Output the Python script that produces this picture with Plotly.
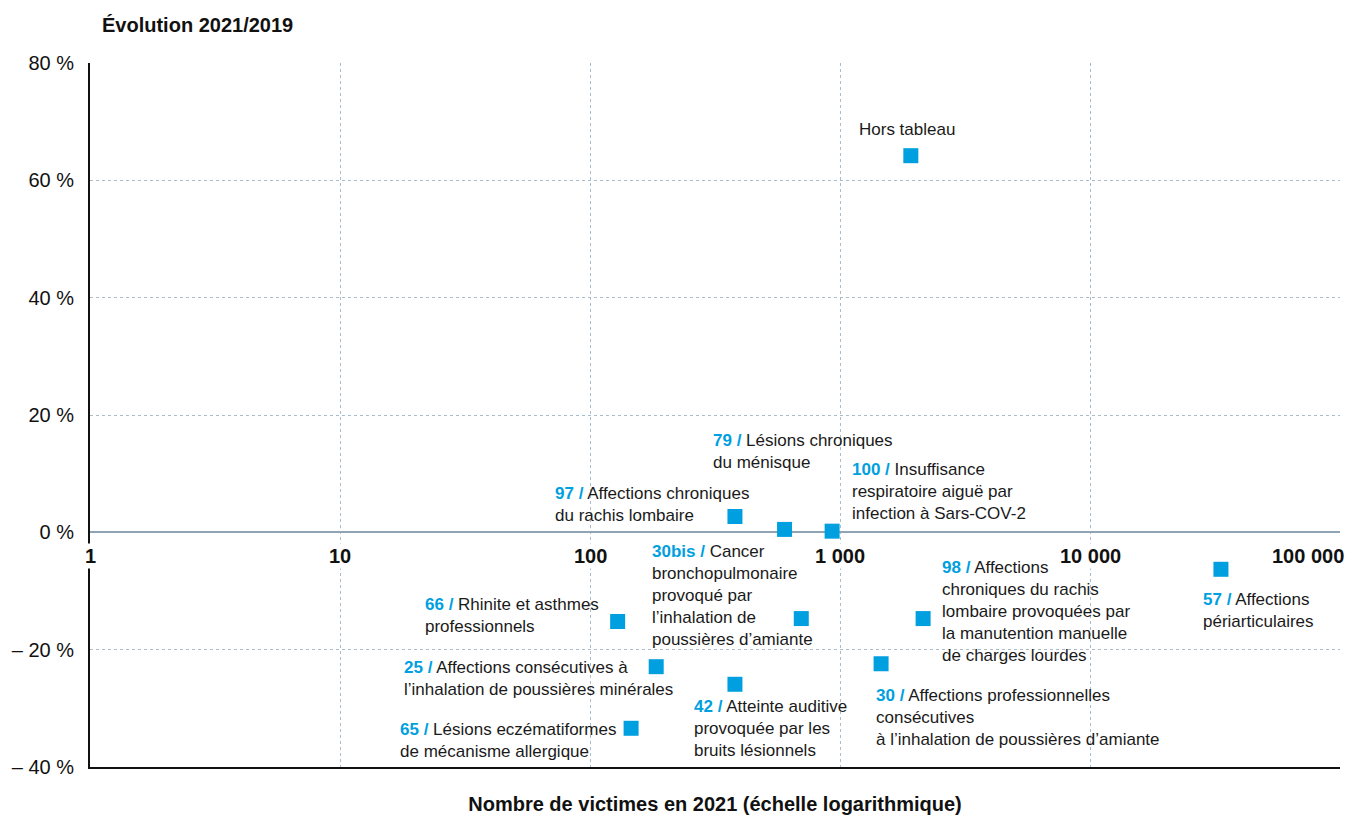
import math
import plotly.graph_objects as go

# ---- data ----
codes = ["", "97", "79", "100", "30bis", "98", "57", "66", "25", "30", "42", "65"]
names = [
    "Hors tableau",
    "Affections chroniques<br>du rachis lombaire",
    "Lésions chroniques<br>du ménisque",
    "Insuffisance<br>respiratoire aiguë par<br>infection à Sars-COV-2",
    "Cancer<br>bronchopulmonaire<br>provoqué par<br>l’inhalation de<br>poussières d’amiante",
    "Affections<br>chroniques du rachis<br>lombaire provoquées par<br>la manutention manuelle<br>de charges lourdes",
    "Affections<br>périarticulaires",
    "Rhinite et asthmes<br>professionnels",
    "Affections consécutives à<br>l’inhalation de poussières minérales",
    "Affections professionnelles<br>consécutives<br>à l’inhalation de poussières d’amiante",
    "Atteinte auditive<br>provoquée par les<br>bruits lésionnels",
    "Lésions eczématiformes<br>de mécanisme allergique",
]
victims_2021 = [1920, 380, 600, 930, 700, 2150, 33400, 129, 184, 1460, 380, 146]
evolution_pct = [64.2, 2.7, 0.5, 0.2, -14.7, -14.7, -6.3, -15.2, -22.9, -22.4, -25.9, -33.4]

x_tick_vals = [1, 10, 100, 1000, 10000, 100000]
x_tick_text = ["1", "10", "100", "1 000", "10 000", "100 000"]
y_tick_vals = [-40, -20, 0, 20, 40, 60, 80]
y_tick_text = ["– 40 %", "– 20 %", "0 %", "20 %", "40 %", "60 %", "80 %"]

# label offsets in pixels (xshift, yshift, xanchor)
label_pos = [
    (-4, 26, "center"),
    (-182, 12, "left"),
    (-74, 78, "left"),
    (18, 40, "left"),
    (-151, 23, "left"),
    (17, 7, "left"),
    (-20, -41, "left"),
    (-195, 6, "left"),
    (-254, -12, "left"),
    (-7, -54, "left"),
    (-43, -44, "left"),
    (-233, -12, "left"),
]

FONT = "Liberation Sans, Arial, sans-serif"
BLUE = "#009fe0"
GRID = "#a9bccb"

fig = go.Figure()
fig.add_trace(go.Scatter(
    x=victims_2021, y=evolution_pct, mode="markers",
    marker=dict(symbol="square", size=15, color=BLUE, line=dict(width=0)),
    hoverinfo="skip", showlegend=False,
))

annotations = []
for c, n, xv, yv, (dx, dy, anc) in zip(codes, names, victims_2021, evolution_pct, label_pos):
    if c:
        txt = f'<span style="color:{BLUE}"><b>{c} /</b></span> {n}'
    else:
        txt = n
    annotations.append(dict(
        x=math.log10(xv), y=yv, xref="x", yref="y", text=txt, showarrow=False,
        xanchor=anc, yanchor="middle", align="left", xshift=dx, yshift=dy,
        font=dict(family=FONT, size=17, color="#1a1a1a"),
    ))

# x tick labels drawn on the zero line
for i, (v, t) in enumerate(zip(x_tick_vals, x_tick_text)):
    annotations.append(dict(
        x=math.log10(v), y=0, xref="x", yref="y", text=f"<b>{t}</b>", showarrow=False,
        xanchor="center", yanchor="middle", yshift=-24,
        xshift=-32 if i == len(x_tick_vals) - 1 else 0,
        bgcolor="white", borderpad=1,
        font=dict(family=FONT, size=20, color="#111111"),
    ))

annotations.append(dict(
    x=(100 - 90) / 1250, y=1 + (63 - 25) / 704, xref="paper", yref="paper",
    text="<b>Évolution 2021/2019</b>", showarrow=False, xanchor="left", yanchor="middle",
    font=dict(family=FONT, size=20, color="#111111"),
))

fig.update_layout(
    width=1355, height=811,
    margin=dict(l=82, r=23, t=55, b=52),
    paper_bgcolor="white", plot_bgcolor="white",
    font=dict(family=FONT, color="#111111"),
    annotations=annotations,
    xaxis=dict(
        type="log", range=[0, 5], tickvals=x_tick_vals, ticktext=x_tick_text,
        showticklabels=False, showgrid=True, gridcolor=GRID, griddash="dot", gridwidth=1,
        showline=True, linecolor="#111111", linewidth=2, zeroline=False, ticks="",
        automargin=False,
        title=dict(text="<b>Nombre de victimes en 2021 (échelle logarithmique)</b>",
                   font=dict(family=FONT, size=20, color="#111111"), standoff=29),
    ),
    yaxis=dict(
        range=[-40, 80], tickvals=y_tick_vals, ticktext=y_tick_text,
        showgrid=True, gridcolor=GRID, griddash="dot", gridwidth=1,
        showline=True, linecolor="#111111", linewidth=2, ticks="",
        zeroline=True, zerolinecolor="#8fa5b5", zerolinewidth=1.5,
        automargin=False,
        tickfont=dict(family=FONT, size=20, color="#111111"), ticklabelstandoff=10,
    ),
)

fig.write_html("out.html")
